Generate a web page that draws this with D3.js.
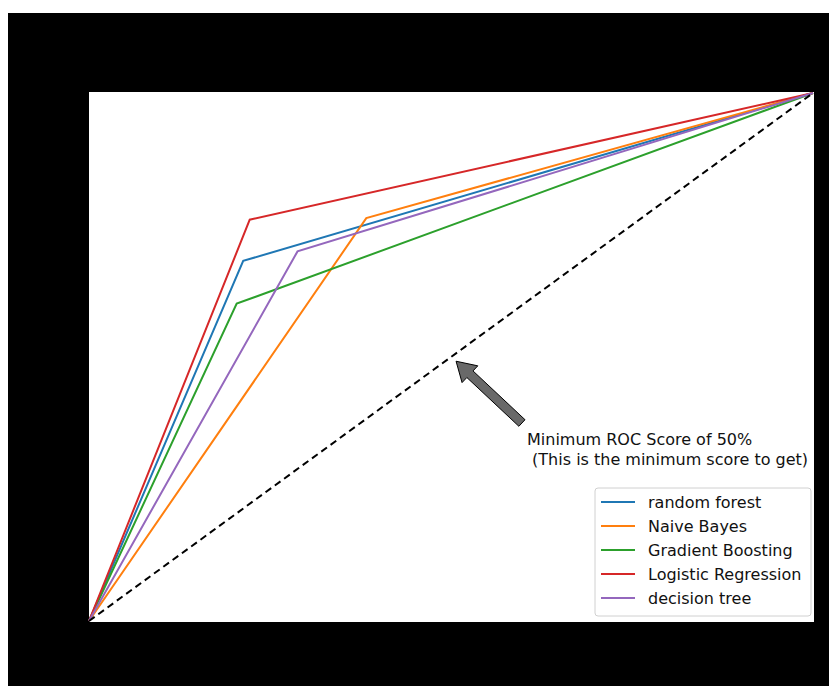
<!DOCTYPE html>
<html>
<head>
<meta charset="utf-8">
<script src="https://cdn.jsdelivr.net/npm/d3@7"></script>
<style>
  html, body { margin: 0; padding: 0; background: #ffffff; }
  svg { display: block; }
</style>
</head>
<body>
<svg id="chart" width="829" height="686"></svg>
<script>
// ---- data ----
const models = ["random forest", "Naive Bayes", "Gradient Boosting", "Logistic Regression", "decision tree"];
const fprPoints = [
  [0, 0.213, 1],
  [0, 0.383, 1],
  [0, 0.204, 1],
  [0, 0.222, 1],
  [0, 0.288, 1]
];
const tprPoints = [
  [0, 0.682, 1],
  [0, 0.763, 1],
  [0, 0.601, 1],
  [0, 0.760, 1],
  [0, 0.700, 1]
];
const colors = ["#1f77b4", "#ff7f0e", "#2ca02c", "#d62728", "#9467bd"];
const baseline = [[0, 0], [1, 1]];
const annotationLines = ["Minimum ROC Score of 50%", " (This is the minimum score to get)"];
const arrowTip = [0.507, 0.492];
const arrowTail = [0.598, 0.375];
const textPos = [0.605, 0.333];

// ---- layout ----
const svg = d3.select("#chart");
const W = 829, H = 686;
const plot = { left: 89, top: 93, right: 813, bottom: 621 };
const FONT = "DejaVu Sans";
const FS = 16;

// figure background (black area)
svg.append("rect").attr("x", 8).attr("y", 13).attr("width", W - 8).attr("height", H - 13).attr("fill", "#000");

const x = d3.scaleLinear().domain([0, 1]).range([plot.left, plot.right]);
const y = d3.scaleLinear().domain([0, 1]).range([plot.bottom, plot.top]);

// plot area
svg.append("rect")
  .attr("x", plot.left).attr("y", plot.top - 1)
  .attr("width", plot.right - plot.left + 1).attr("height", plot.bottom - plot.top + 2)
  .attr("fill", "#fff");

const g = svg.append("g");
const line = d3.line().x(d => x(d[0])).y(d => y(d[1]));

models.forEach((m, i) => {
  const pts = fprPoints[i].map((f, j) => [f, tprPoints[i][j]]);
  g.append("path").datum(pts)
    .attr("d", line)
    .attr("fill", "none")
    .attr("stroke", colors[i])
    .attr("stroke-width", 2);
});

// dashed baseline
g.append("path").datum(baseline)
  .attr("d", line)
  .attr("fill", "none")
  .attr("stroke", "#000")
  .attr("stroke-width", 2)
  .attr("stroke-dasharray", "7,4.5");

// annotation arrow (fancy arrow)
(function () {
  const tx = x(arrowTip[0]), ty = y(arrowTip[1]);
  const sx = x(arrowTail[0]), sy = y(arrowTail[1]);
  const dx = tx - sx, dy = ty - sy;
  const len = Math.sqrt(dx * dx + dy * dy);
  const ux = dx / len, uy = dy / len;
  const px = -uy, py = ux;
  const hw = 4.5, headW = 11.5, headL = 19;
  const bx = tx - ux * headL, by = ty - uy * headL;
  const pts = [
    [sx + px * hw, sy + py * hw],
    [bx + px * hw, by + py * hw],
    [bx + px * headW, by + py * headW],
    [tx, ty],
    [bx - px * headW, by - py * headW],
    [bx - px * hw, by - py * hw],
    [sx - px * hw, sy - py * hw]
  ];
  g.append("path")
    .attr("d", "M" + pts.map(p => p.join(",")).join("L") + "Z")
    .attr("fill", "#696969")
    .attr("stroke", "#000")
    .attr("stroke-width", 1);
})();

const ann = g.append("text")
  .attr("x", x(textPos[0]))
  .attr("y", y(textPos[1]))
  .attr("font-family", FONT)
  .attr("font-size", FS)
  .attr("fill", "#111");
annotationLines.forEach((t, i) => {
  ann.append("tspan")
    .attr("x", x(textPos[0]))
    .attr("dy", i === 0 ? 0 : 20)
    .attr("xml:space", "preserve")
    .style("white-space", "pre")
    .text(t);
});

// legend
const leg = svg.append("g");
const lx = 595, ly = 488, lw = 216, lh = 128;
leg.append("rect")
  .attr("x", lx).attr("y", ly).attr("width", lw).attr("height", lh)
  .attr("rx", 3).attr("ry", 3)
  .attr("fill", "#fff").attr("fill-opacity", 0.85)
  .attr("stroke", "#d0d0d0").attr("stroke-width", 1);
models.forEach((m, i) => {
  const cy = 502 + i * 24;
  leg.append("line")
    .attr("x1", 601).attr("x2", 635)
    .attr("y1", cy).attr("y2", cy)
    .attr("stroke", colors[i]).attr("stroke-width", 2);
  leg.append("text")
    .attr("x", 648).attr("y", cy + 6)
    .attr("font-family", FONT)
    .attr("font-size", FS)
    .attr("fill", "#111")
    .text(m);
});
</script>
</body>
</html>
